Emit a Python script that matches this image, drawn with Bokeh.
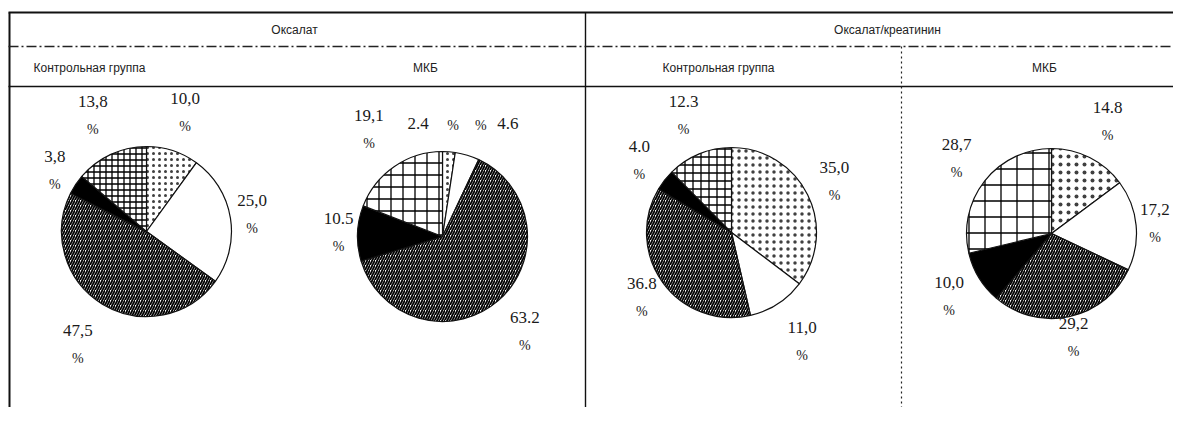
import math
from bokeh.plotting import figure
from bokeh.models import ColumnDataSource, Range1d
from bokeh.core.properties import value
from bokeh.embed import file_html
from bokeh.resources import INLINE

# ---------------- data ----------------
group_titles = ["Оксалат", "Оксалат/креатинин"]
subgroup_titles = ["Контрольная группа", "МКБ", "Контрольная группа", "МКБ"]
# slice order: clockwise from 12 o'clock
slice_kinds = ["dots", "white", "hatch", "black", "grid"]

ox_control = [10.0, 25.0, 47.5, 3.8, 13.8]
ox_mkb = [2.4, 4.6, 63.2, 10.5, 19.1]
oc_control = [35.0, 11.0, 36.8, 4.0, 12.3]
oc_mkb = [14.8, 17.2, 29.2, 10.0, 28.7]

ox_control_labels = ["10,0", "25,0", "47,5", "3,8", "13,8"]
ox_mkb_labels = ["2.4", "4.6", "63.2", "10.5", "19,1"]
oc_control_labels = ["35,0", "11,0", "36.8", "4.0", "12.3"]
oc_mkb_labels = ["14.8", "17,2", "29,2", "10,0", "28,7"]
pct_sign = "%"

# ---------------- layout ----------------
W, H = 1173, 407
R = 85
def Y(yy):  # picture row -> data y
    return H - yy

p = figure(width=W, height=H, x_range=Range1d(0, W), y_range=Range1d(0, H),
           output_backend="svg", toolbar_location=None, x_axis_type=None, y_axis_type=None,
           min_border=0, outline_line_color=None, background_fill_color="white",
           border_fill_color="white")
p.xgrid.visible = False
p.ygrid.visible = False

# table rules
p.segment(x0=[8, 9], y0=[Y(12), Y(12)], x1=[W, 9], y1=[Y(12), 0],
          line_color="#111", line_width=2)
p.segment(x0=[8, 585], y0=[Y(86), Y(12)], x1=[W, 585], y1=[Y(86), 0],
          line_color="#111", line_width=1.4)
p.segment(x0=[8], y0=[Y(46)], x1=[W], y1=[Y(46)], line_color="#222",
          line_width=1.4, line_dash="10 3 2 3")
p.segment(x0=[901], y0=[Y(46)], x1=[901], y1=[0], line_color="#222",
          line_width=1.2, line_dash="2 3")

hdr_font = value("Liberation Sans")
p.text(x=[294, 887], y=[Y(29), Y(29)], text=group_titles, text_align="center",
       text_baseline="middle", text_font=hdr_font, text_font_size="12px", text_color="#222")
p.text(x=[89, 425, 718, 1044], y=[Y(67)] * 4, text=subgroup_titles, text_align="center",
       text_baseline="middle", text_font=hdr_font, text_font_size="12px", text_color="#222")

fill_of = {"dots": "white", "white": "white", "hatch": "white", "black": "black", "grid": "white"}
hatch_of = {"dots": "dot", "white": "blank", "hatch": "right_diagonal_line", "black": "blank",
            "grid": "cross"}
weight_of = {"dots": 1.0, "white": 1, "hatch": 1.8, "black": 1, "grid": 1.3}
alpha_of = {"dots": 0.75, "white": 1, "hatch": 1, "black": 1, "grid": 1}

num_x, num_y, num_t, num_dx, num_dy = [], [], [], [], []
pc_x, pc_y, pc_dx, pc_dy = [], [], [], []

def pie(cx, cy, vals, labels, dists, nudges, modes, dot_scale, hatch_scale, grid_scale):
    total = float(sum(vals))
    cum = 0.0
    starts, ends = [], []
    for v, lab, d, nx, mode in zip(vals, labels, dists, nudges, modes):
        a0 = cum / total * 2 * math.pi
        cum += v
        a1 = cum / total * 2 * math.pi
        starts.append(math.pi / 2 - a0)
        ends.append(math.pi / 2 - a1)
        m = (a0 + a1) / 2
        lx = cx + d * math.sin(m) + nx
        ly = cy - d * math.cos(m)
        num_x.append(lx); num_y.append(Y(ly)); num_t.append(lab)
        pc_x.append(lx); pc_y.append(Y(ly))
        if mode == "below":
            num_dx.append(0); num_dy.append(-14); pc_dx.append(0); pc_dy.append(14)
        elif mode == "right":
            num_dx.append(0); num_dy.append(0); pc_dx.append(35); pc_dy.append(2)
        else:
            num_dx.append(0); num_dy.append(0); pc_dx.append(-27); pc_dy.append(2)
    scale_of = {"dots": dot_scale, "white": 1, "hatch": hatch_scale, "black": 1, "grid": grid_scale}
    src = ColumnDataSource(dict(
        x=[cx] * len(vals), y=[Y(cy)] * len(vals), start=starts, end=ends,
        fill=[fill_of[k] for k in slice_kinds],
        hatch=[hatch_of[k] for k in slice_kinds],
        hscale=[scale_of[k] for k in slice_kinds],
        hweight=[weight_of[k] for k in slice_kinds],
        halpha=[alpha_of[k] for k in slice_kinds],
    ))
    p.wedge(x="x", y="y", radius=R, start_angle="start", end_angle="end", direction="clock",
            fill_color="fill", hatch_pattern="hatch", hatch_scale="hscale",
            hatch_weight="hweight", hatch_alpha="halpha", hatch_color="black",
            line_color="#111", line_width=1.2, source=src)

below5 = ["below"] * 5
pie(146, 231, ox_control, ox_control_labels, [125, 107, 132, 110, 128], [0] * 5, below5, 6, 5, 6)
pie(442, 236, ox_mkb, ox_mkb_labels, [113, 118, 126, 104, 130], [-33, 31, 0, 0, 0],
    ["right", "left", "below", "below", "below"], 6, 5, 12)
pie(731, 232, oc_control, oc_control_labels, [115, 130, 111, 117, 126], [0] * 5, below5, 7, 5, 8)
pie(1051, 233, oc_mkb, oc_mkb_labels, [125, 104, 106, 120, 121], [0] * 5, below5, 8, 5, 16)

lab_font = value("Liberation Serif")
p.text(x=num_x, y=num_y, text=num_t, x_offset=num_dx, y_offset=num_dy, text_align="center",
       text_baseline="middle", text_font=lab_font, text_font_size="17px", text_color="#1a1a1a")
p.text(x=pc_x, y=pc_y, text=[pct_sign] * len(pc_x), x_offset=pc_dx, y_offset=pc_dy,
       text_align="center", text_baseline="middle", text_font=lab_font,
       text_font_size="14px", text_color="#1a1a1a")

open("out.html", "w").write(file_html(p, INLINE))
